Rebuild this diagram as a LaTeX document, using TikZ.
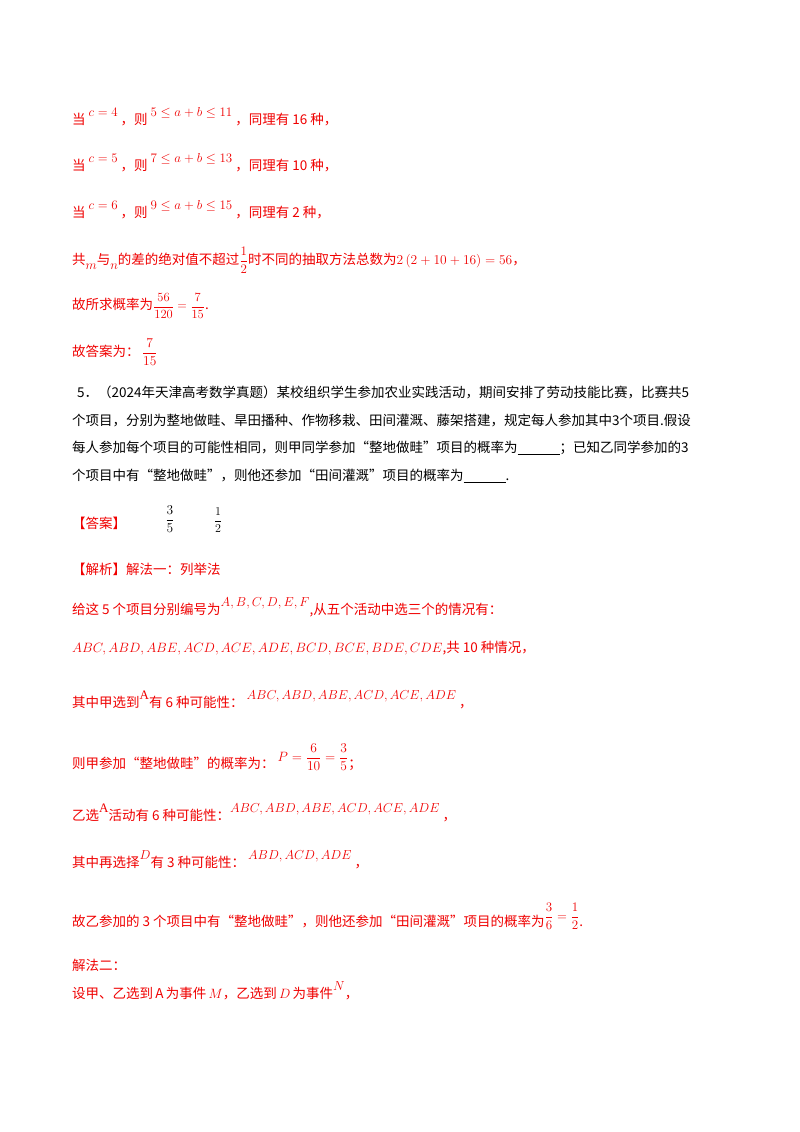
\RequirePackage{fix-cm}
\documentclass[tikz,border=0pt]{standalone}
\usepackage{fontspec}
\usepackage{amsmath}
\setmainfont{Liberation Serif}
\newfontfamily\cjk{Noto Sans CJK SC}
\definecolor{rd}{RGB}{240,0,0}
\newcommand{\up}[1]{\raisebox{8pt}{\fontsize{13}{15}\selectfont$#1$}}
\newcommand{\dn}[1]{\raisebox{-5pt}{\fontsize{13}{15}\selectfont$#1$}}
\begin{document}
\begin{tikzpicture}[x=1pt,y=-1pt]
\tikzset{ln/.style={anchor=west,inner sep=0pt,font=\fontsize{13.5}{16}\selectfont\cjk,text=rd},
 bk/.style={ln,text=black}}
\fill[white] (0,0) rectangle (800,1132);
\useasboundingbox (0,0) rectangle (800,1132);
\node[ln] (l1) at (72,117) {当 \up{c=4} ，则 \up{5\le a+b\le 11} ，同理有 16 种，};
\node[ln] (l2) at (72,163) {当 \up{c=5} ，则 \up{7\le a+b\le 13} ，同理有 10 种，};
\node[ln] (l3) at (72,210) {当 \up{c=6} ，则 \up{9\le a+b\le 15} ，同理有 2 种，};
\node[ln] (l4) at (72,260) {共\dn{m}与\dn{n}的差的绝对值不超过{\fontsize{13}{15}\selectfont$\dfrac12$}时不同的抽取方法总数为$2\left(2+10+16\right)=56$，};
\node[ln] (l5) at (72,306) {故所求概率为{\fontsize{12.5}{14}\selectfont$\dfrac{56}{120}=\dfrac{7}{15}$}.};
\node[ln] (l6) at (72,352) {故答案为：\,$\dfrac{7}{15}$};
\node[bk] (q1) at (77,392) {5．（2024年天津高考数学真题）某校组织学生参加农业实践活动，期间安排了劳动技能比赛，比赛共5};
\node[bk] (q2) at (72,420) {个项目，分别为整地做畦、旱田播种、作物移栽、田间灌溉、藤架搭建，规定每人参加其中3个项目.假设};
\node[bk] (q3) at (72,448) {每人参加每个项目的可能性相同，则甲同学参加“整地做畦”项目的概率为\underline{\hspace{42pt}}；已知乙同学参加的3};
\node[bk] (q4) at (72,476) {个项目中有“整地做畦”，则他还参加“田间灌溉”项目的概率为\underline{\hspace{42pt}}.};
\node[ln] (ans) at (72,523) {【答案】};
\node[bk,anchor=center] (a1) at (170,519) {$\dfrac35$};
\node[bk,anchor=center] (a2) at (218,520) {\fontsize{12}{14}\selectfont$\dfrac12$};
\node[ln] (j0) at (72,569) {【解析】解法一：列举法};
\node[ln] (j1) at (72,607) {给这 5 个项目分别编号为\up{A,B,C,D,E,F},从五个活动中选三个的情况有：};
\node[ln] (j2) at (72,648) {$ABC,ABD,ABE,ACD,ACE,ADE,BCD,BCE,BDE,CDE$,共 10 种情况，};
\node[ln] (j3) at (72,700) {其中甲选到\up{\mathrm{A}}有 6 种可能性：\ \up{ABC,ABD,ABE,ACD,ACE,ADE}\ ，};
\node[ln] (j4) at (72,757) {则甲参加“整地做畦”的概率为：\ \raisebox{7pt}{$P=\dfrac{6}{10}=\dfrac35$}；};
\node[ln] (j5) at (72,813) {乙选\up{\mathrm{A}}活动有 6 种可能性：\up{ABC,ABD,ABE,ACD,ACE,ADE}\ ，};
\node[ln] (j6) at (72,860) {其中再选择\up{D}有 3 种可能性：\ \up{ABD,ACD,ADE}\ ，};
\node[ln] (j7) at (72,916) {故乙参加的 3 个项目中有“整地做畦”，则他还参加“田间灌溉”项目的概率为\raisebox{6pt}{\fontsize{13}{15}\selectfont$\dfrac36=\dfrac12$}.};
\node[ln] (j8) at (72,965) {解法二：};
\node[ln] (j9) at (72,991) {设甲、乙选到\,A\,为事件\,$M$，乙选到\,$D$\,为事件\up{N}，};
\end{tikzpicture}
\end{document}
